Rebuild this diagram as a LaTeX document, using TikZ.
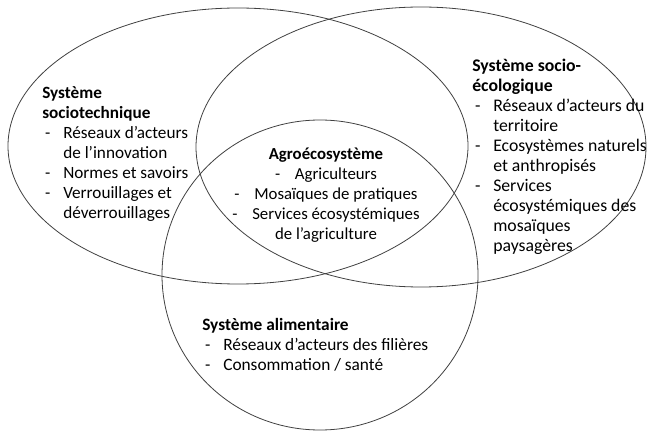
\documentclass[tikz,border=0pt]{standalone}
\usepackage{fontspec}
\setmainfont{Carlito}
\usepackage{tikz}
\newcommand{\itm}[1]{\makebox[15.75pt][l]{\hspace{2.2pt}-}#1}
\newcommand{\cnt}{\hspace*{15.75pt}}
\tikzset{
  sys/.style={draw=black!75, line width=0.6pt},
  bloc/.style={inner sep=0pt, anchor=base west, align=left, font=\fontsize{12.5}{15}\selectfont}
}

\begin{document}
\begin{tikzpicture}[x=0.75pt, y=0.75pt]
        \useasboundingbox (0,0) rectangle (649,432);
        \draw[sys] (238, 286) ellipse (172.5pt and 103.5pt);
        \draw[sys] (421, 285) ellipse (168.75pt and 105pt);
        \draw[sys] (320, 157) ellipse (118.5pt and 116.25pt);
        % anchor = baseline of the last line
        \node[bloc, font=\fontsize{12.9}{15}\selectfont] (socio) at (42, 213) {\textbf{Système}\\\textbf{sociotechnique}\\
          \itm{Réseaux d’acteurs}\\\cnt de l’innovation\\\itm{Normes et savoirs}\\
          \itm{Verrouillages et}\\\cnt déverrouillages};
        \node[bloc, font=\fontsize{13.3}{15}\selectfont] (ecolo) at (472, 180) {\textbf{Système socio-}\\\textbf{écologique}\\
          \itm{Réseaux d’acteurs du}\\\cnt territoire\\\itm{Ecosystèmes naturels}\\
          \cnt et anthropisés\\\itm{Services}\\\cnt écosystémiques des\\\cnt mosaïques\\\cnt paysagères};
        \node[bloc, anchor=base, align=center, font=\fontsize{12.6}{15}\selectfont] (agro) at (326, 192) {\textbf{Agroécosystème}\\
          -\hspace{11pt}Agriculteurs\\-\hspace{11pt}Mosaïques de pratiques\\
          -\hspace{11pt}Services écosystémiques\\de l’agriculture};
        \node[bloc, font=\fontsize{13}{15}\selectfont] (alim) at (202, 62) {\textbf{Système alimentaire}\\
          \itm{Réseaux d’acteurs des filières}\\\itm{Consommation / santé}};
      \end{tikzpicture}
\end{document}
